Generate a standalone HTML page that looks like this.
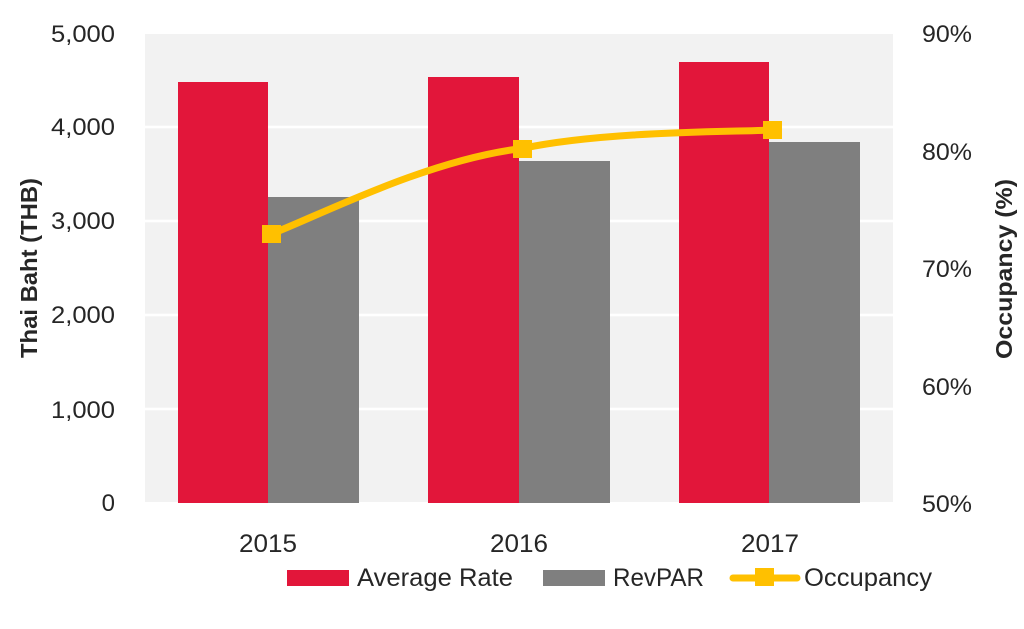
<!DOCTYPE html>
<html>
<head>
<meta charset="utf-8">
<style>
  html, body { margin:0; padding:0; background:#ffffff; }
  svg { display:block; }
  text { font-family: "Liberation Sans", "DejaVu Sans", sans-serif; fill:#262626; }
</style>
</head>
<body>
<svg width="1024" height="629" viewBox="0 0 1024 629" xmlns="http://www.w3.org/2000/svg">
  <rect x="0" y="0" width="1024" height="629" fill="#ffffff"/>
  <!-- plot area -->
  <rect x="145" y="34" width="748" height="468" fill="#F2F2F2"/>
  <!-- gridlines -->
  <g stroke="#ffffff" stroke-width="2.5">
    <line x1="145" y1="127" x2="893" y2="127"/>
    <line x1="145" y1="221" x2="893" y2="221"/>
    <line x1="145" y1="315" x2="893" y2="315"/>
    <line x1="145" y1="409" x2="893" y2="409"/>
  </g>
  <!-- bars -->
  <g fill="#E2163A">
    <rect x="178" y="82" width="90" height="421"/>
    <rect x="428" y="77" width="91" height="426"/>
    <rect x="679" y="62" width="90" height="441"/>
  </g>
  <g fill="#7F7F7F">
    <rect x="268" y="197" width="91" height="306"/>
    <rect x="519" y="161" width="91" height="342"/>
    <rect x="769" y="142" width="91" height="361"/>
  </g>
  <!-- occupancy line -->
  <path d="M271,234 C312,219 425,160 522,148.5 C605,131 730,132 772,130" fill="none" stroke="#FFC000" stroke-width="7" stroke-linejoin="round" stroke-linecap="round"/>
  <g fill="#FFC000">
    <rect x="262" y="225" width="19" height="18"/>
    <rect x="513" y="140" width="19" height="18"/>
    <rect x="763" y="121" width="19" height="18"/>
  </g>
  <!-- left tick labels -->
  <g font-size="24" text-anchor="end">
    <text x="115" y="42" textLength="64" lengthAdjust="spacingAndGlyphs">5,000</text>
    <text x="115" y="135" textLength="64" lengthAdjust="spacingAndGlyphs">4,000</text>
    <text x="115" y="229" textLength="64" lengthAdjust="spacingAndGlyphs">3,000</text>
    <text x="115" y="323" textLength="64" lengthAdjust="spacingAndGlyphs">2,000</text>
    <text x="115" y="418" textLength="64" lengthAdjust="spacingAndGlyphs">1,000</text>
    <text x="115" y="511">0</text>
  </g>
  <!-- right tick labels -->
  <g font-size="24">
    <text x="922" y="42" textLength="50" lengthAdjust="spacingAndGlyphs">90%</text>
    <text x="922" y="160" textLength="50" lengthAdjust="spacingAndGlyphs">80%</text>
    <text x="922" y="277" textLength="50" lengthAdjust="spacingAndGlyphs">70%</text>
    <text x="922" y="395" textLength="50" lengthAdjust="spacingAndGlyphs">60%</text>
    <text x="922" y="512" textLength="50" lengthAdjust="spacingAndGlyphs">50%</text>
  </g>
  <!-- axis titles -->
  <text transform="translate(37,268) rotate(-90)" font-size="23" font-weight="bold" text-anchor="middle" textLength="180" lengthAdjust="spacingAndGlyphs">Thai Baht (THB)</text>
  <text transform="translate(1012,269) rotate(-90)" font-size="23" font-weight="bold" text-anchor="middle" textLength="180" lengthAdjust="spacingAndGlyphs">Occupancy (%)</text>
  <!-- x labels -->
  <g font-size="25" text-anchor="middle">
    <text x="268" y="552" textLength="58" lengthAdjust="spacingAndGlyphs">2015</text>
    <text x="519" y="552" textLength="58" lengthAdjust="spacingAndGlyphs">2016</text>
    <text x="770" y="552" textLength="58" lengthAdjust="spacingAndGlyphs">2017</text>
  </g>
  <!-- legend -->
  <rect x="287" y="570" width="62" height="16" fill="#E2163A"/>
  <text x="357" y="586" font-size="25" textLength="156" lengthAdjust="spacingAndGlyphs">Average Rate</text>
  <rect x="543" y="570" width="62" height="16" fill="#7F7F7F"/>
  <text x="613" y="586" font-size="25" textLength="91" lengthAdjust="spacingAndGlyphs">RevPAR</text>
  <line x1="733" y1="578" x2="797" y2="578" stroke="#FFC000" stroke-width="7" stroke-linecap="round"/>
  <rect x="755" y="568" width="19" height="18" fill="#FFC000"/>
  <text x="804" y="586" font-size="25" textLength="128" lengthAdjust="spacingAndGlyphs">Occupancy</text>
</svg>
</body>
</html>
